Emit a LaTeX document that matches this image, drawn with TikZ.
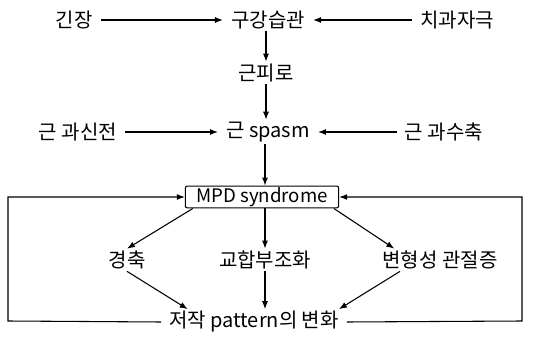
\documentclass[tikz,border=0pt]{standalone}
\usepackage{fontspec}
\setmainfont{Noto Sans CJK KR}
\usetikzlibrary{positioning, arrows.meta}

\begin{document}
\begin{tikzpicture}[
    x=0.75pt, y=-0.75pt,
    every node/.style={font=\fontsize{15}{17}\selectfont},
    term/.style={inner xsep=6pt, inner ysep=1.5pt},
    box/.style={draw, rounded corners=1.5pt, minimum width=115pt,
        minimum height=16pt, inner sep=1pt, line width=0.8pt,
        font=\fontsize{14}{16}\selectfont},
    arrow/.style={-{Latex[length=6pt, width=4.5pt]}, line width=0.8pt},
    loopline/.style={arrow}
]
\useasboundingbox (0,0) rectangle (533,339);

% Top row
\node[term] (tension) at (74,20) {긴장};
\node[term] (habit) at (268,20) {구강습관};
\node[term] (dental) at (457,20) {치과자극};
\node[term] (fatigue) at (266,73) {근피로};

% Middle row
\node[term] (overext) at (78,132) {근 과신전};
\node[term] (spasm) at (268,132) {근 spasm};
\node[term] (overcont) at (444,132) {근 과수축};

% MPD syndrome box
\node[box] (mpd) at (262,197) {MPD syndrome};

% Effects
\node[term] (ankylo) at (127,260) {경축};
\node[term] (malocc) at (265,260) {교합부조화};
\node[term] (arthro) at (440,260) {변형성 관절증};
\node[term] (chewing) at (254,322) {저작 pattern의 변화};

% Feedback corners
\coordinate (lb) at (8,321);
\coordinate (rb) at (522,321);

% Edges
\draw[arrow] (tension) -- (habit);
\draw[arrow] (dental) -- (habit);
\draw[arrow] (habit.south -| fatigue) -- (fatigue);
\draw[arrow] (fatigue) -- (fatigue |- spasm.north);
\draw[arrow] (overext) -- (spasm);
\draw[arrow] (overcont) -- (spasm);
\draw[arrow] (spasm.south -| malocc) -- (mpd.north -| malocc);
\draw[arrow] ([xshift=6pt]mpd.south west) -- (ankylo.north);
\draw[arrow] (mpd.south -| malocc) -- (malocc);
\draw[arrow] ([xshift=-4pt]mpd.south east) -- ([xshift=15pt]arthro.north west);
\draw[arrow] (ankylo.south) -- ([xshift=20pt]chewing.north west);
\draw[arrow] (malocc) -- (malocc |- chewing.north);
\draw[arrow] ([xshift=-30pt]arthro.south) -- ([xshift=-6pt]chewing.north east);
\draw[loopline] (chewing.west) -- (lb) |- (mpd.west);
\draw[loopline] (chewing.east) -- (rb) |- (mpd.east);

\end{tikzpicture}
\end{document}
